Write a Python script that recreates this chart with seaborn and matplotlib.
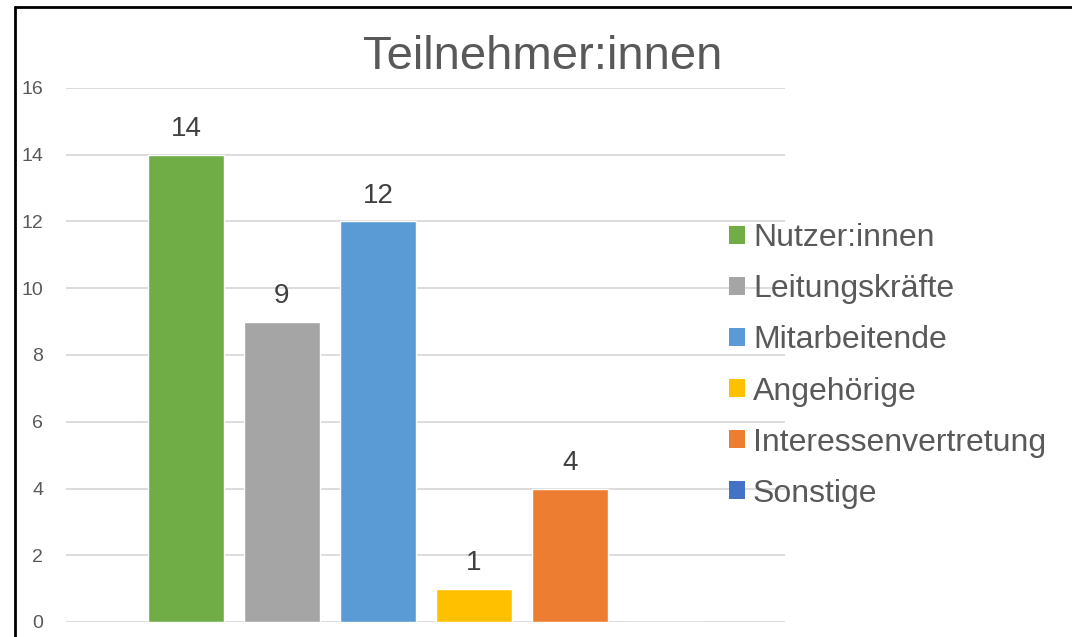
import matplotlib
matplotlib.use("Agg")
import matplotlib.pyplot as plt
from matplotlib.patches import Patch
from matplotlib.lines import Line2D
import seaborn as sns
import pandas as pd

categories = ["Nutzer:innen", "Leitungskräfte", "Mitarbeitende", "Angehörige",
              "Interessenvertretung", "Sonstige"]
values = [14, 9, 12, 1, 4, 0]
colors = ["#70AD47", "#A5A5A5", "#5B9BD5", "#FFC000", "#ED7D31", "#4472C4"]
yticks = [0, 2, 4, 6, 8, 10, 12, 14, 16]
title = "Teilnehmer:innen"

sns.set_theme(style="white")
plt.rcParams["font.family"] = ["Liberation Sans", "DejaVu Sans"]

W, H = 1072, 637
fig = plt.figure(figsize=(W / 100, H / 100), dpi=100)
ax = fig.add_axes([66 / W, (H - 622) / H, (785 - 66) / W, (622 - 88) / H])

df = pd.DataFrame({"cat": categories, "val": values})
pal = dict(zip(categories, colors))
sns.barplot(data=df, x="cat", y="val", hue="cat", palette=pal, order=categories,
            hue_order=categories, width=0.79, dodge=False, legend=False,
            saturation=1, ax=ax, zorder=3)

ax.set_xlim(-1.25, 6.24)
ax.set_ylim(0, 16)
ax.set_yticks(yticks)
ax.set_yticklabels([str(t) for t in yticks], fontsize=14, color="#595959")
ax.set_xticks([])
ax.set_xlabel("")
ax.set_ylabel("")
ax.tick_params(axis="y", length=0, pad=16.5)
for s in ax.spines.values():
    s.set_visible(False)
ax.yaxis.grid(True, color="#D9D9D9", linewidth=1.3, zorder=0)
ax.set_axisbelow(True)

for i, v in enumerate(values):
    if v > 0:
        ax.annotate(str(v), (i, v), xytext=(0, 9), textcoords="offset points",
                    ha="center", va="bottom", fontsize=20, color="#404040")

fig.text(543 / W, (H - 57) / H, title, ha="center", va="center",
         fontsize=34, color="#595959")

handles = [Patch(facecolor=c, edgecolor="none") for c in colors]
fig.legend(handles, categories, loc="center left",
           bbox_to_anchor=(729 / W, (H - 366) / H), bbox_transform=fig.transFigure,
           frameon=False, fontsize=23, labelcolor="#595959",
           handlelength=0.5, handleheight=0.5, handletextpad=0.25,
           labelspacing=0.66, borderpad=0, borderaxespad=0)

# outer border (top and left visible)
fig.add_artist(Line2D([15 / W, 1.0], [(H - 7) / H, (H - 7) / H], color="black",
                      linewidth=2, transform=fig.transFigure))
fig.add_artist(Line2D([15 / W, 15 / W], [0, (H - 7) / H], color="black",
                      linewidth=2, transform=fig.transFigure))

fig.savefig("out.png", dpi=100, facecolor="white")
